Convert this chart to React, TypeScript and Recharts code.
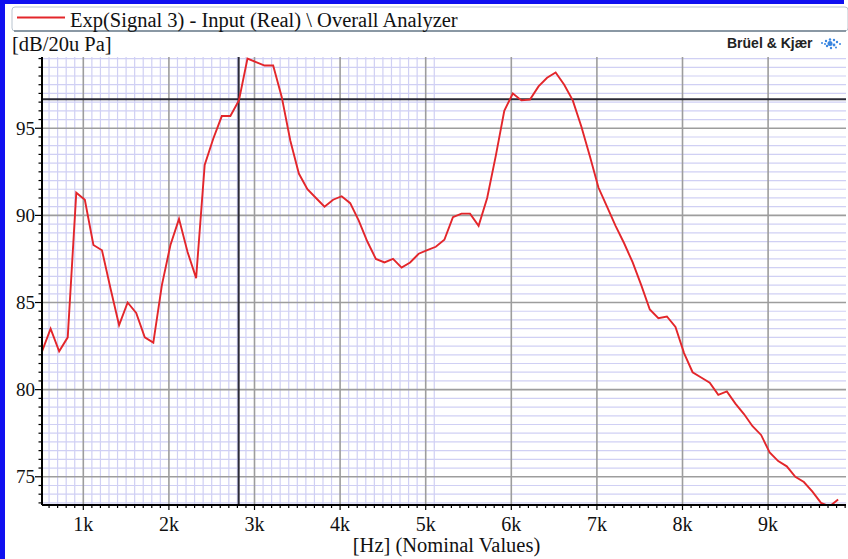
import React from 'react';
import { LineChart, Line, XAxis, YAxis, ReferenceLine } from 'recharts';

// Frequencies (Hz) of the analyzer samples
const freqHz = [
  518, 618, 718, 818, 918, 1018, 1118, 1218, 1318, 1418,
  1518, 1618, 1718, 1818, 1918, 2018, 2118, 2218, 2318, 2418,
  2518, 2618, 2718, 2818, 2918, 3018, 3118, 3218, 3318, 3418,
  3518, 3618, 3718, 3818, 3918, 4018, 4118, 4218, 4318, 4418,
  4518, 4618, 4718, 4818, 4918, 5018, 5118, 5218, 5318, 5418,
  5518, 5618, 5718, 5818, 5918, 6018, 6118, 6218, 6318, 6418,
  6518, 6618, 6718, 6818, 6918, 7018, 7118, 7218, 7318, 7418,
  7518, 7618, 7718, 7818, 7918, 8018, 8118, 8218, 8318, 8418,
  8518, 8618, 8718, 8818, 8918, 9018, 9118, 9218, 9318, 9418,
  9518, 9618, 9718, 9818,
];

// Level in dB re 20 µPa
const levelDb = [
  82.2, 83.5, 82.2, 83.0, 91.3, 90.9, 88.3, 88.0, 85.8, 83.7,
  85.0, 84.4, 83.0, 82.7, 86.0, 88.3, 89.8, 87.9, 86.4, 92.9,
  94.4, 95.7, 95.7, 96.6, 99.0, 98.8, 98.6, 98.6, 96.8, 94.3,
  92.4, 91.5, 91.0, 90.5, 90.9, 91.1, 90.7, 89.7, 88.5, 87.5,
  87.3, 87.5, 87.0, 87.3, 87.8, 88.0, 88.2, 88.6, 89.9, 90.1,
  90.1, 89.4, 91.0, 93.4, 96.0, 97.0, 96.6, 96.65, 97.4, 97.9,
  98.2, 97.5, 96.6, 95.1, 93.4, 91.6, 90.5, 89.4, 88.4, 87.3,
  86.0, 84.6, 84.1, 84.2, 83.6, 82.1, 81.0, 80.7, 80.4, 79.7,
  79.9, 79.2, 78.6, 77.9, 77.4, 76.4, 75.9, 75.6, 75.0, 74.7,
  74.15, 73.5, 73.3, 73.7,
];

const xMajorTicks = [1000, 2000, 3000, 4000, 5000, 6000, 7000, 8000, 9000];
const xMajorLabels = ['1k', '2k', '3k', '4k', '5k', '6k', '7k', '8k', '9k'];
const yMajorTicks = [75, 80, 85, 90, 95];
const yMajorLabels = ['75', '80', '85', '90', '95'];

const cursorX = 2815;
const cursorY = 96.66;

const legendText = 'Exp(Signal 3) - Input (Real) \\ Overall Analyzer';
const yUnitText = '[dB/20u Pa]';
const xTitleText = '[Hz] (Nominal Values)';
const brandText = 'Brüel & Kjær';

const xDomain: [number, number] = [517.5, 9910];
const yDomain: [number, number] = [73.38, 99.09];

// minor tick positions
const xMinorTicks: number[] = [];
for (let k = 6; k <= 99; k++) xMinorTicks.push(k * 100);
const yMinorTicks: number[] = [];
for (let k = 147; k <= 198; k++) yMinorTicks.push(k / 2);

const xMinorGrid = xMinorTicks.filter((v) => v % 1000 !== 0 && v <= 5100);
const yMinorGrid = yMinorTicks.filter((v) => v % 5 !== 0);

const data = freqHz.map((f, i) => ({ f, db: levelDb[i] }));

const SERIF = '"Liberation Serif", "DejaVu Serif", serif';
const SANS = '"Liberation Sans", Arial, sans-serif';

const XTick = (props: any) => {
  const { x, y, payload } = props;
  const v = payload.value;
  const idx = xMajorTicks.indexOf(v);
  const major = idx >= 0;
  return (
    <g>
      <line x1={x} x2={x} y1={y} y2={y + (major ? 5 : 3)} stroke="#000" strokeWidth={1.2} />
      {major && (
        <text x={x} y={y + 26} textAnchor="middle" fontFamily={SERIF} fontSize={20} fill="#111">
          {xMajorLabels[idx]}
        </text>
      )}
    </g>
  );
};

const YTick = (props: any) => {
  const { x, y, payload } = props;
  const v = payload.value;
  const idx = yMajorTicks.indexOf(v);
  const major = idx >= 0;
  return (
    <g>
      <line x1={x - (major ? 7 : 3.5)} x2={x} y1={y} y2={y} stroke="#000" strokeWidth={1.2} />
      {major && (
        <text x={x - 7} y={y + 6.5} textAnchor="end" fontFamily={SERIF} fontSize={19} fill="#111">
          {yMajorLabels[idx]}
        </text>
      )}
    </g>
  );
};

export default function App() {
  return (
    <div style={{ position: 'absolute', left: 0, top: 0, width: 848, height: 559, background: '#fff', overflow: 'hidden' }}>
      <LineChart width={848} height={559} data={data} margin={{ top: 57, right: 2, bottom: 0, left: 0 }}>
        {yMinorGrid.map((v) => (
          <ReferenceLine key={'ym' + v} y={v} stroke="#d0d0f4" strokeWidth={1.2} />
        ))}
        {xMinorGrid.map((v) => (
          <ReferenceLine key={'xm' + v} x={v} stroke="#d0d0f4" strokeWidth={1.2} />
        ))}
        {yMajorTicks.map((v) => (
          <ReferenceLine key={'yM' + v} y={v} stroke="#9d9d9d" strokeWidth={1.6} />
        ))}
        {xMajorTicks.map((v) => (
          <ReferenceLine key={'xM' + v} x={v} stroke="#9d9d9d" strokeWidth={1.6} />
        ))}
        <ReferenceLine x={cursorX} stroke="#2a2a36" strokeWidth={2} />
        <ReferenceLine y={cursorY} stroke="#2a2a36" strokeWidth={2} />
        <XAxis
          dataKey="f"
          type="number"
          domain={xDomain}
          allowDataOverflow
          ticks={xMinorTicks}
          interval={0}
          tickSize={0}
          tickMargin={0}
          tickLine={false}
          tick={(p: any) => <XTick {...p} />}
          axisLine={{ stroke: '#000', strokeWidth: 2 }}
          height={54}
        />
        <YAxis
          type="number"
          domain={yDomain}
          allowDataOverflow
          ticks={yMinorTicks}
          interval={0}
          tickSize={0}
          tickMargin={0}
          tickLine={false}
          tick={(p: any) => <YTick {...p} />}
          axisLine={{ stroke: '#000', strokeWidth: 2 }}
          width={42}
        />
        <Line
          type="linear"
          dataKey="db"
          stroke="#e3262b"
          strokeWidth={1.9}
          dot={false}
          activeDot={false}
          isAnimationActive={false}
        />
      </LineChart>
      <svg width={848} height={559} style={{ position: 'absolute', left: 0, top: 0, pointerEvents: 'none' }}>
        {/* blue frame */}
        <rect x={0} y={0} width={844} height={4} fill="#1010f0" />
        <rect x={0} y={0} width={5} height={559} fill="#1010f0" />
        {/* legend box */}
        <rect x={12} y={7} width={836} height={24} rx={3} fill="#fff" stroke="#b9c4cf" strokeWidth={1} />
        <line x1={14} x2={846} y1={31} y2={31} stroke="#6f7f8e" strokeWidth={1.5} />
        <line x1={17} x2={65} y1={17.5} y2={17.5} stroke="#e3262b" strokeWidth={2} />
        <text x={70} y={27} fontFamily={SERIF} fontSize={20.5} fill="#111">{legendText}</text>
        {/* unit label */}
        <text x={12} y={51} fontFamily={SERIF} fontSize={20.5} fill="#111">{yUnitText}</text>
        {/* brand */}
        <text x={727} y={48} fontFamily={SANS} fontWeight="bold" fontSize={14} fill="#222">{brandText}</text>
        <g fill="#3a86e0">
          <circle cx={822} cy={43} r={1} />
          <circle cx={826} cy={41} r={1.2} />
          <circle cx={830} cy={39.5} r={1.2} />
          <circle cx={834} cy={40} r={1.2} />
          <circle cx={837} cy={42} r={1.2} />
          <circle cx={840} cy={44} r={1} />
          <circle cx={830} cy={43.5} r={2.5} />
          <circle cx={834} cy={45} r={1.4} />
          <circle cx={827} cy={46} r={1.2} />
          <circle cx={831} cy={48} r={1.2} />
          <circle cx={836} cy={47.5} r={1} />
          <circle cx={825} cy={44} r={1} />
        </g>
        {/* x title */}
        <text x={446.5} y={552} textAnchor="middle" fontFamily={SERIF} fontSize={20.5} fill="#111">{xTitleText}</text>
      </svg>
    </div>
  );
}
